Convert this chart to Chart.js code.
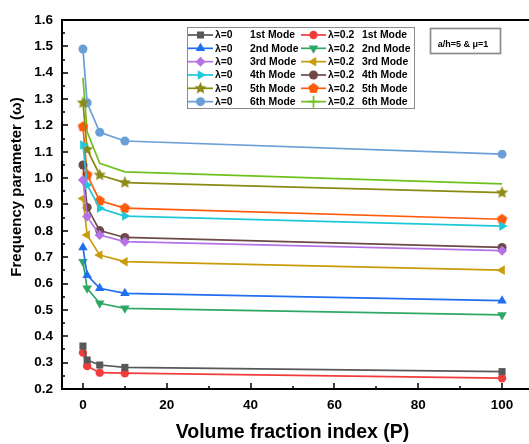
<!DOCTYPE html>
<html>
<head>
<meta charset="utf-8">
<script src="https://cdn.jsdelivr.net/npm/chart.js@4.4.0/dist/chart.umd.min.js"></script>
<style>
html, body { margin: 0; padding: 0; background: #fff; }
</style>
</head>
<body>
<canvas id="myChart" width="529" height="444"></canvas>
<script>
// volume fraction index values on the x axis
var P = [0, 1, 4, 10, 100];

// lambda = 0
var l0_mode1 = [0.363, 0.310, 0.291, 0.282, 0.266];
var l0_mode2 = [0.737, 0.632, 0.582, 0.563, 0.535];
var l0_mode3 = [0.993, 0.854, 0.784, 0.759, 0.725];
var l0_mode4 = [1.126, 0.974, 0.886, 0.856, 0.818];
var l0_mode5 = [1.286, 1.109, 1.012, 0.983, 0.945];
var l0_mode6 = [1.490, 1.286, 1.174, 1.141, 1.091];

// lambda = 0.2
var l2_mode1 = [0.338, 0.287, 0.262, 0.260, 0.241];
var l2_mode2 = [0.683, 0.582, 0.525, 0.506, 0.481];
var l2_mode3 = [0.923, 0.784, 0.708, 0.683, 0.651];
var l2_mode4 = [1.050, 0.889, 0.801, 0.775, 0.737];
var l2_mode5 = [1.195, 1.012, 0.914, 0.886, 0.844];
var l2_mode6 = [1.381, 1.176, 1.056, 1.024, 0.978];

var modeNames = ['1st Mode', '2nd Mode', '3rd Mode', '4th Mode', '5th Mode', '6th Mode'];
var xTicks = [0, 20, 40, 60, 80, 100];
var yTicks = [0.2, 0.3, 0.4, 0.5, 0.6, 0.7, 0.8, 0.9, 1.0, 1.1, 1.2, 1.3, 1.4, 1.5, 1.6];

Chart.defaults.font.family = 'Arial, "Liberation Sans", sans-serif';

// little canvases for markers chart.js doesn't have
function shapeCanvas(color, r, n, inner) {
    var c = document.createElement('canvas');
    c.width = c.height = Math.ceil(2 * r + 2);
    var g = c.getContext('2d');
    var cx = c.width / 2, cy = c.height / 2;
    var pts = inner ? n * 2 : n;
    g.beginPath();
    for (var i = 0; i < pts; i++) {
        var a = -Math.PI / 2 + i * 2 * Math.PI / pts;
        var rr = (inner && i % 2 == 1) ? r * inner : r;
        var px = cx + rr * Math.cos(a), py = cy + rr * Math.sin(a);
        if (i == 0) g.moveTo(px, py); else g.lineTo(px, py);
    }
    g.closePath();
    g.fillStyle = color;
    g.fill();
    return c;
}

var starImg = shapeCanvas('#8a8a14', 6.5, 5, 0.45);
var pentImg = shapeCanvas('#ff5a0a', 5.5, 5, 0);

function ds(label, vals, color, style, radius, rot) {
    var pts = [];
    for (var i = 0; i < P.length; i++) pts.push({x: P[i], y: vals[i]});
    return {
        label: label,
        data: pts,
        borderColor: color,
        backgroundColor: color,
        borderWidth: 1.7,
        pointStyle: style,
        pointRadius: radius,
        pointHoverRadius: radius,
        pointRotation: rot || 0,
        pointBorderWidth: 0,
        tension: 0
    };
}

var datasets = [
    ds('λ=0 1st Mode', l0_mode1, '#585858', 'rect', 5),
    ds('λ=0 2nd Mode', l0_mode2, '#1f6ff0', 'triangle', 5.5),
    ds('λ=0 3rd Mode', l0_mode3, '#b572e6', 'rectRot', 5),
    ds('λ=0 4th Mode', l0_mode4, '#1fc8d8', 'triangle', 5.5, 90),
    ds('λ=0 5th Mode', l0_mode5, '#8a8a14', starImg, 6),
    ds('λ=0 6th Mode', l0_mode6, '#6a9ed6', 'circle', 4.5),
    ds('λ=0.2 1st Mode', l2_mode1, '#f23c3c', 'circle', 4.2),
    ds('λ=0.2 2nd Mode', l2_mode2, '#2fa866', 'triangle', 5.5, 180),
    ds('λ=0.2 3rd Mode', l2_mode3, '#c99c0a', 'triangle', 5.5, 270),
    ds('λ=0.2 4th Mode', l2_mode4, '#6d4a48', 'circle', 4.5),
    ds('λ=0.2 5th Mode', l2_mode5, '#ff5a0a', pentImg, 5.5),
    ds('λ=0.2 6th Mode', l2_mode6, '#6fc21e', 'cross', 6)
];

var extras = {
    id: 'extras',
    afterDraw: function (chart) {
        var ctx = chart.ctx, a = chart.chartArea;
        var xs = chart.scales.x, ys = chart.scales.y;
        ctx.save();
        // frame: left, bottom, top (right edge is cut off in the original)
        ctx.strokeStyle = '#000';
        ctx.lineWidth = 2;
        ctx.beginPath();
        ctx.moveTo(529, a.top); ctx.lineTo(a.left, a.top);
        ctx.lineTo(a.left, a.bottom); ctx.lineTo(529, a.bottom);
        ctx.stroke();
        // inward ticks
        ctx.lineWidth = 1.5;
        ctx.beginPath();
        for (var i = 0; i <= 28; i++) {
            var py = Math.round(ys.getPixelForValue(0.2 + i * 0.05));
            var len = i % 2 == 0 ? 6 : 3;
            ctx.moveTo(a.left, py); ctx.lineTo(a.left + len, py);
        }
        for (var v = 0; v <= 100; v += 10) {
            var px = Math.round(xs.getPixelForValue(v));
            var l2 = v % 20 == 0 ? 6 : 3;
            ctx.moveTo(px, a.bottom); ctx.lineTo(px, a.bottom - l2);
        }
        ctx.stroke();

        // axis titles
        ctx.fillStyle = '#000';
        ctx.textAlign = 'center';
        ctx.textBaseline = 'middle';
        ctx.font = 'bold 19.5px Arial, "Liberation Sans"';
        ctx.fillText('Volume fraction index (P)', (a.left + a.right) / 2, 433);
        ctx.save();
        ctx.translate(17, 187);
        ctx.rotate(-Math.PI / 2);
        ctx.font = 'bold 15px Arial, "Liberation Sans"';
        ctx.fillText('Frequency parameter (ω)', 0, 0);
        ctx.restore();

        // legend box
        ctx.fillStyle = '#fff';
        ctx.fillRect(187, 27, 227, 81);
        ctx.strokeStyle = '#8c8c8c';
        ctx.lineWidth = 1;
        ctx.strokeRect(187.5, 27.5, 227, 81);
        ctx.textAlign = 'left';
        ctx.font = 'bold 10.4px Arial, "Liberation Sans"';
        chart.data.datasets.forEach(function (d, k) {
            var col = k < 6 ? 0 : 1, row = k % 6;
            var yy = 35 + row * 13.33;
            var x0 = col == 0 ? 188 : 301;
            ctx.strokeStyle = d.borderColor;
            ctx.lineWidth = 1.7;
            ctx.beginPath();
            ctx.moveTo(x0, yy); ctx.lineTo(x0 + 25, yy);
            ctx.stroke();
            ctx.fillStyle = d.backgroundColor;
            Chart.helpers.drawPoint(ctx, {
                pointStyle: d.pointStyle, rotation: d.pointRotation,
                radius: d.pointRadius, borderWidth: d.pointStyle == 'cross' ? 1.7 : 0
            }, x0 + 12.5, yy);
            ctx.fillStyle = '#000';
            ctx.fillText(col == 0 ? 'λ=0' : 'λ=0.2', col == 0 ? 215 : 328, yy + 0.5);
            ctx.fillText(modeNames[row], col == 0 ? 250 : 362, yy + 0.5);
        });

        // parameter box
        ctx.strokeStyle = '#8c8c8c';
        ctx.strokeRect(430.5, 28.5, 70, 25);
        ctx.fillStyle = '#000';
        ctx.textAlign = 'center';
        ctx.font = 'bold 9px Arial, "Liberation Sans"';
        ctx.fillText('a/h=5 & μ=1', 463, 45);
        ctx.restore();
    }
};

var ctx = document.getElementById('myChart').getContext('2d');
var myChart = new Chart(ctx, {
    type: 'line',
    data: { datasets: datasets },
    options: {
        responsive: false,
        animation: false,
        devicePixelRatio: 1,
        layout: { padding: { top: 20, right: 2, left: 0, bottom: 0 } },
        plugins: { legend: { display: false }, tooltip: { enabled: false } },
        scales: {
            x: {
                type: 'linear',
                min: -5, max: 105,
                grid: { display: false, drawTicks: false },
                border: { display: false },
                afterBuildTicks: function (s) { s.ticks = xTicks.map(function (v) { return {value: v}; }); },
                afterFit: function (s) { s.height = 55; },
                ticks: {
                    padding: 8, color: '#000', maxRotation: 0,
                    font: { size: 13.5, weight: 'bold' }
                }
            },
            y: {
                min: 0.2, max: 1.6,
                grid: { display: false, drawTicks: false },
                border: { display: false },
                afterBuildTicks: function (s) { s.ticks = yTicks.map(function (v) { return {value: v}; }); },
                afterFit: function (s) { s.width = 62; },
                ticks: {
                    padding: 9, color: '#000',
                    font: { size: 13.5, weight: 'bold' },
                    callback: function (v) { return Number(v).toFixed(1); }
                }
            }
        }
    },
    plugins: [extras]
});
</script>
</body>
</html>
